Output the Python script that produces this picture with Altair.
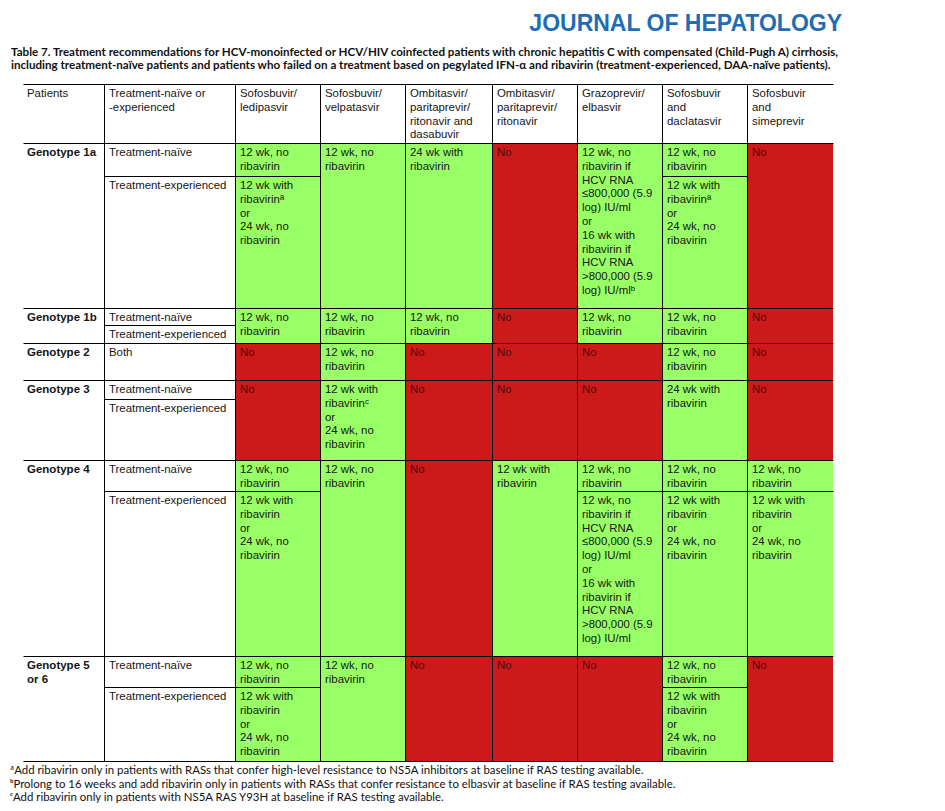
import altair as alt
import pandas as pd

# ---------------- text content ----------------
title_text = "JOURNAL OF HEPATOLOGY"
caption_lines = [
    "Table 7. Treatment recommendations for HCV-monoinfected or HCV/HIV coinfected patients with chronic hepatitis C with compensated (Child-Pugh A) cirrhosis,",
    "including treatment-naïve patients and patients who failed on a treatment based on pegylated IFN-α and ribavirin (treatment-experienced, DAA-naïve patients).",
]
footnotes = [
    "ªAdd ribavirin only in patients with RASs that confer high-level resistance to NS5A inhibitors at baseline if RAS testing available.",
    "ᵇProlong to 16 weeks and add ribavirin only in patients with RASs that confer resistance to elbasvir at baseline if RAS testing available.",
    "ᶜAdd ribavirin only in patients with NS5A RAS Y93H at baseline if RAS testing available.",
]
headers = [
    "Patients",
    "Treatment-naïve or\n-experienced",
    "Sofosbuvir/\nledipasvir",
    "Sofosbuvir/\nvelpatasvir",
    "Ombitasvir/\nparitaprevir/\nritonavir and\ndasabuvir",
    "Ombitasvir/\nparitaprevir/\nritonavir",
    "Grazoprevir/\nelbasvir",
    "Sofosbuvir\nand\ndaclatasvir",
    "Sofosbuvir\nand\nsimeprevir",
]
genotypes = ["Genotype 1a", "Genotype 1b", "Genotype 2", "Genotype 3", "Genotype 4", "Genotype 5\nor 6"]
NAIVE_EXP = ["Treatment-naïve", "Treatment-experienced"]
treatment_labels = [NAIVE_EXP, NAIVE_EXP, ["Both"], NAIVE_EXP, NAIVE_EXP, NAIVE_EXP]

R12 = "12 wk, no\nribavirin"
R12W = "12 wk with\nribavirin"
R24W = "24 wk with\nribavirin"
R12R = "12 wk with\nribavirin\nor\n24 wk, no\nribavirin"
R12R_A = "12 wk with\nribavirinª\nor\n24 wk, no\nribavirin"
R12R_C = "12 wk with\nribavirinᶜ\nor\n24 wk, no\nribavirin"
GZR = ("12 wk, no\nribavirin if\nHCV RNA\n≤800,000 (5.9\nlog) IU/ml\nor\n16 wk with\n"
       "ribavirin if\nHCV RNA\n>800,000 (5.9\nlog) IU/ml")
GZR_B = GZR + "ᵇ"
NO = "No"

# regimen cells per genotype (columns 3..9); a tuple = (treatment-naïve, treatment-experienced)
cells_1a = [(R12, R12R_A), R12, R24W, NO, GZR_B, (R12, R12R_A), NO]
cells_1b = [R12, R12, R12, NO, R12, R12, NO]
cells_2 = [NO, R12, NO, NO, NO, R12, NO]
cells_3 = [NO, R12R_C, NO, NO, NO, R24W, NO]
cells_4 = [(R12, R12R), R12, NO, R12W, (R12, GZR), (R12, R12R), (R12, R12R)]
cells_56 = [(R12, R12R), R12, NO, NO, NO, (R12, R12R), NO]
genotype_cells = [cells_1a, cells_1b, cells_2, cells_3, cells_4, cells_56]

# ---------------- layout (page pixels) ----------------
col_edges = [23, 104, 235, 320, 405, 492, 577, 662, 747, 833]
header_top, header_bottom = 84, 143
group_rows = [(143, 176, 308), (308, 325, 343), (343, None, 380),
              (380, 399, 460), (460, 491, 656), (656, 687, 761)]
PAD_X, PAD_Y = 5, 4
GREEN, RED = "#99FF66", "#CC1A1A"
TXT, TXT_NO = "#151515", "#4a0c0c"

rects, texts, bold_texts, rules = [], [], [], []

for j, h in enumerate(headers):
    texts.append(dict(x=col_edges[j] + (4 if j == 0 else PAD_X), y=header_top + PAD_Y, t=h, c=TXT))

for g, (top, split, bottom) in enumerate(group_rows):
    bold_texts.append(dict(x=col_edges[0] + 4, y=top + PAD_Y, t=genotypes[g]))
    labels = treatment_labels[g]
    texts.append(dict(x=col_edges[1] + PAD_X, y=top + PAD_Y, t=labels[0], c=TXT))
    if len(labels) > 1:
        texts.append(dict(x=col_edges[1] + PAD_X, y=split + PAD_Y, t=labels[1], c=TXT))
        rules.append(dict(x=col_edges[1], x2=col_edges[2], y=split, y2=split))
    for k, entry in enumerate(genotype_cells[g]):
        j = k + 2
        parts = [(top, bottom, entry)] if isinstance(entry, str) else [(top, split, entry[0]), (split, bottom, entry[1])]
        if not isinstance(entry, str):
            rules.append(dict(x=col_edges[j], x2=col_edges[j + 1], y=split, y2=split))
        for (a, b, txt) in parts:
            fill = RED if txt == NO else GREEN
            rects.append(dict(x=col_edges[j], x2=col_edges[j + 1], y=a, y2=b, fill=fill))
            texts.append(dict(x=col_edges[j] + PAD_X, y=a + PAD_Y, t=txt, c=TXT_NO if txt == NO else TXT))

full_lines = [header_top, header_bottom] + [r[2] for r in group_rows]
for yy in full_lines:
    rules.append(dict(x=col_edges[0], x2=col_edges[-1], y=yy, y2=yy))
for xx in col_edges[1:-1]:
    rules.append(dict(x=xx, x2=xx, y=header_top, y2=group_rows[-1][2]))

# shift lines by half a pixel for crisp 1px strokes
for r in rules:
    for key in ("x", "x2", "y", "y2"):
        r[key] = r[key] + 0.5

xs = alt.Scale(domain=[8, 937], nice=False, zero=False)
ys = alt.Scale(domain=[8, 803], nice=False, zero=False, reverse=True)
X = lambda f="x": alt.X(f + ":Q", scale=xs, axis=None)
Y = lambda f="y": alt.Y(f + ":Q", scale=ys, axis=None)

rect_layer = alt.Chart(pd.DataFrame(rects)).mark_rect(strokeWidth=0).encode(
    x=X(), x2="x2", y=Y(), y2="y2", color=alt.Color("fill:N", scale=None)
)
rule_layer = alt.Chart(pd.DataFrame(rules)).mark_rule(color="black", strokeWidth=1).encode(
    x=X(), x2="x2", y=Y(), y2="y2"
)
text_layer = alt.Chart(pd.DataFrame(texts)).mark_text(
    align="left", baseline="top", lineBreak="\n", font="Liberation Sans", fontSize=11.4, lineHeight=13.8
).encode(x=X(), y=Y(), text="t:N", color=alt.Color("c:N", scale=None))
bold_layer = alt.Chart(pd.DataFrame(bold_texts)).mark_text(
    align="left", baseline="top", lineBreak="\n", font="Liberation Sans", fontSize=11.5,
    fontWeight="bold", lineHeight=13.8, color="#151515"
).encode(x=X(), y=Y(), text="t:N")

title_layer = alt.Chart(pd.DataFrame([dict(x=842, y=31, t=title_text)])).mark_text(
    align="right", baseline="alphabetic", font="Liberation Sans", fontSize=23, fontWeight="bold", color="#1f6db5"
).encode(x=X(), y=Y(), text="t:N")
caption_layer = alt.Chart(pd.DataFrame([dict(x=11, y=56 + 13 * i, t=s) for i, s in enumerate(caption_lines)])).mark_text(
    align="left", baseline="alphabetic", font="Lato", fontSize=11.6, fontWeight="bold", color="#111111"
).encode(x=X(), y=Y(), text="t:N")
foot_layer = alt.Chart(pd.DataFrame([dict(x=10, y=774 + 13.5 * i, t=s) for i, s in enumerate(footnotes)])).mark_text(
    align="left", baseline="alphabetic", font="Lato", fontSize=11.4, color="#111111"
).encode(x=X(), y=Y(), text="t:N")

chart = alt.layer(
    rect_layer, rule_layer, text_layer, bold_layer, title_layer, caption_layer, foot_layer
).properties(
    width=929, height=795, padding=0, autosize=alt.AutoSizeParams(type="none")
).configure_view(stroke=None)

chart.save("out.html", embed_options={"renderer": "svg", "actions": False})
